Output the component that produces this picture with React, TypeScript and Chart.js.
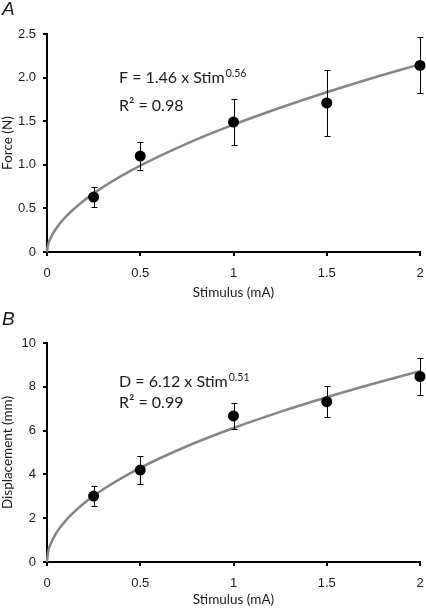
import React, { useEffect, useRef } from "react";
import { Chart, registerables } from "chart.js";

Chart.register(...registerables);

// ---- data ----
const stimulus = [0.25, 0.5, 1, 1.5, 2];
const xTickLabels = ["0", "0.5", "1", "1.5", "2"];

const forceMean = [0.63, 1.1, 1.49, 1.71, 2.14];
const forceErr = [0.11, 0.16, 0.26, 0.38, 0.32];
const forceTickLabels = ["0", "0.5", "1.0", "1.5", "2.0", "2.5"];

const dispMean = [3.01, 4.2, 6.67, 7.32, 8.47];
const dispErr = [0.46, 0.65, 0.59, 0.72, 0.85];
const dispTickLabels = ["0", "2", "4", "6", "8", "10"];

// fitted curves
const fitX = [0, 0.005, 0.02, 0.05, 0.1, 0.2, 0.3, 0.5, 0.75, 1, 1.25, 1.5, 1.75, 2];
const forceFit = [0, 0.075, 0.163, 0.273, 0.402, 0.593, 0.744, 0.99, 1.243, 1.46, 1.654, 1.832, 1.998, 2.152];
const dispFit = [0, 0.41, 0.833, 1.328, 1.892, 2.693, 3.311, 4.298, 5.285, 6.12, 6.857, 7.526, 8.141, 8.715];

const W = 426;
const H = 304;
const TEXT = "#1a1a1a";
const SANS = '"Lato", "Open Sans", sans-serif';
const ARIAL = '"Liberation Sans", Arial, sans-serif';

type Panel = {
  letter: string;
  letterY: number;
  means: number[];
  errs: number[];
  fit: number[];
  yMax: number;
  yStep: number;
  yTicks: string[];
  yTitle: string;
  eq: string;
  eqSup: string;
  r2: string;
  eqY: number;
  r2Y: number;
  padTop: number;
  xAxisH: number;
  titlePadBottom: number;
};

const panels: Panel[] = [
  {
    letter: "A",
    letterY: 10,
    means: forceMean,
    errs: forceErr,
    fit: forceFit,
    yMax: 2.5,
    yStep: 0.5,
    yTicks: forceTickLabels,
    yTitle: "Force (N)",
    eq: "F = 1.46 x Stim",
    eqSup: "0.56",
    r2: "R\u00B2 = 0.98",
    eqY: 78,
    r2Y: 106,
    padTop: 34,
    xAxisH: 52,
    titlePadBottom: 3,
  },
  {
    letter: "B",
    letterY: 16,
    means: dispMean,
    errs: dispErr,
    fit: dispFit,
    yMax: 10,
    yStep: 2,
    yTicks: dispTickLabels,
    yTitle: "Displacement (mm)",
    eq: "D = 6.12 x Stim",
    eqSup: "0.51",
    r2: "R\u00B2 = 0.99",
    eqY: 78,
    r2Y: 99,
    padTop: 39,
    xAxisH: 46,
    titlePadBottom: 0,
  },
];

function buildConfig(p: Panel): any {
  const errorBars = {
    id: "errbars" + p.letter,
    afterDatasetsDraw(chart: any) {
      const ctx = chart.ctx;
      const xS = chart.scales.x;
      const yS = chart.scales.y;
      ctx.save();
      ctx.strokeStyle = "#000";
      ctx.lineWidth = 1;
      stimulus.forEach((x, i) => {
        const px = Math.round(xS.getPixelForValue(x)) + 0.5;
        const top = Math.round(yS.getPixelForValue(p.means[i] + p.errs[i])) + 0.5;
        const bot = Math.round(yS.getPixelForValue(p.means[i] - p.errs[i])) + 0.5;
        ctx.beginPath();
        ctx.moveTo(px, top);
        ctx.lineTo(px, bot);
        ctx.moveTo(px - 3, top);
        ctx.lineTo(px + 3, top);
        ctx.moveTo(px - 3, bot);
        ctx.lineTo(px + 3, bot);
        ctx.stroke();
      });
      ctx.restore();
    },
  };

  const labels = {
    id: "labels" + p.letter,
    afterDraw(chart: any) {
      const ctx = chart.ctx;
      ctx.save();
      ctx.fillStyle = TEXT;
      ctx.textBaseline = "middle";
      ctx.textAlign = "left";
      ctx.font = "italic 19px " + ARIAL;
      ctx.fillText(p.letter, 2, p.letterY);
      const x0 = 119;
      ctx.font = "16px " + SANS;
      ctx.fillText(p.eq, x0, p.eqY);
      const w = ctx.measureText(p.eq).width;
      ctx.font = "10.5px " + SANS;
      ctx.fillText(p.eqSup, x0 + w + 1, p.eqY - 4);
      ctx.font = "16px " + SANS;
      ctx.fillText(p.r2, x0, p.r2Y);
      ctx.restore();
    },
  };

  return {
    type: "scatter",
    data: {
      datasets: [
        {
          label: "mean",
          data: stimulus.map((x, i) => ({ x, y: p.means[i] })),
          pointRadius: 5.5,
          pointHoverRadius: 5.5,
          backgroundColor: "#000",
          borderColor: "#000",
          borderWidth: 0,
          clip: false,
        },
        {
          label: "fit",
          data: fitX.map((x, i) => ({ x, y: p.fit[i] })),
          showLine: true,
          pointRadius: 0,
          borderColor: "#858585",
          borderWidth: 2.5,
          cubicInterpolationMode: "monotone",
          clip: false,
        },
      ],
    },
    options: {
      responsive: false,
      animation: false,
      events: [],
      layout: { padding: { left: 0, right: 6, top: p.padTop, bottom: 0 } },
      plugins: {
        legend: { display: false },
        tooltip: { enabled: false },
        title: { display: false },
      },
      scales: {
        x: {
          type: "linear",
          min: 0,
          max: 2,
          afterFit: (s: any) => {
            s.height = p.xAxisH;
            s.paddingLeft = 0;
            s.paddingRight = 0;
          },
          afterBuildTicks: (s: any) => {
            s.ticks = xTickLabels.map((_, i) => ({ value: i * 0.5 }));
          },
          ticks: {
            callback: (_v: any, i: number) => xTickLabels[i],
            color: TEXT,
            font: { family: ARIAL, size: 13 },
            padding: 10,
            maxRotation: 0,
          },
          grid: {
            drawOnChartArea: false,
            drawTicks: true,
            tickLength: 4,
            color: "#000",
            lineWidth: 2,
          },
          border: { display: true, color: "#000", width: 2 },
          title: {
            display: true,
            text: "Stimulus (mA)",
            color: TEXT,
            font: { family: SANS, size: 13.5 },
            padding: { top: 0, bottom: p.titlePadBottom },
          },
        },
        y: {
          type: "linear",
          min: 0,
          max: p.yMax,
          afterFit: (s: any) => {
            s.width = 47;
            s.paddingTop = 0;
            s.paddingBottom = 0;
          },
          afterBuildTicks: (s: any) => {
            s.ticks = p.yTicks.map((_, i) => ({ value: i * p.yStep }));
          },
          ticks: {
            callback: (_v: any, i: number) => p.yTicks[i],
            color: TEXT,
            font: { family: ARIAL, size: 13 },
            padding: 7,
          },
          grid: {
            drawOnChartArea: false,
            drawTicks: true,
            tickLength: 4,
            color: "#000",
            lineWidth: 2,
          },
          border: { display: true, color: "#000", width: 2 },
          title: {
            display: true,
            text: p.yTitle,
            color: TEXT,
            font: { family: SANS, size: 13.5 },
            padding: { top: 0, bottom: 0 },
          },
        },
      },
    },
    plugins: [errorBars, labels],
  };
}

function PanelChart({ panel }: { panel: Panel }) {
  const ref = useRef<HTMLCanvasElement | null>(null);
  useEffect(() => {
    if (!ref.current) return;
    const chart = new Chart(ref.current, buildConfig(panel));
    return () => chart.destroy();
  }, [panel]);
  return (
    <canvas
      ref={ref}
      width={W}
      height={H}
      style={{ display: "block", width: W, height: H }}
    />
  );
}

export default function App() {
  return (
    <div
      style={{
        position: "absolute",
        left: 0,
        top: 0,
        width: W,
        height: H * 2,
        background: "#fff",
      }}
    >
      {panels.map((p) => (
        <PanelChart key={p.letter} panel={p} />
      ))}
    </div>
  );
}
